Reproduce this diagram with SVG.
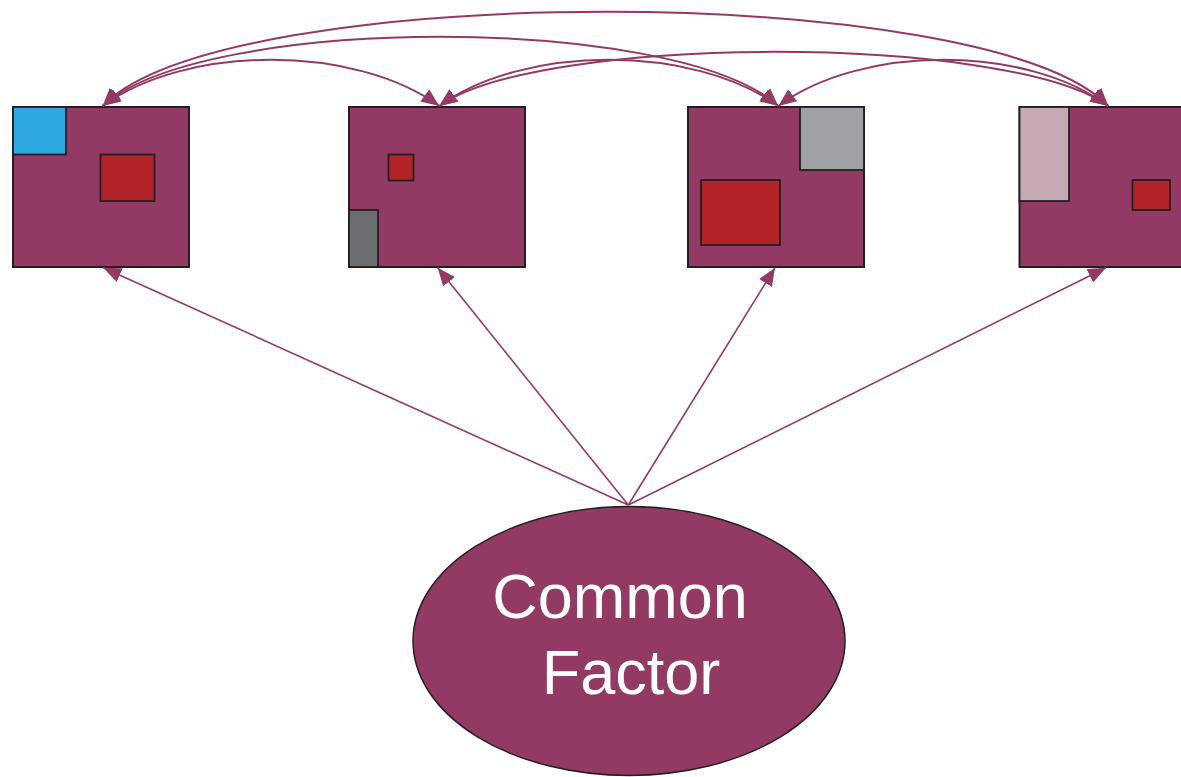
<svg xmlns="http://www.w3.org/2000/svg" width="1181" height="777" viewBox="0 0 1181 777">
  <style>
    .frame { fill: #933a64; stroke: #231f20; stroke-width: 2; }
    .inset { stroke: #231f20; stroke-width: 1.8; }
    .red { fill: #b42327; }
    .blue { fill: #2ea8df; }
    .dgray { fill: #6d6e71; }
    .lgray { fill: #a0a1a4; }
    .pink { fill: #c5a9b4; }
    .arc { fill: none; stroke: #933a64; stroke-width: 2; marker-start: url(#ah); marker-end: url(#ah); }
    .load { fill: none; stroke: #933a64; stroke-width: 1.6; marker-end: url(#ah); }
    .factor { fill: #933a64; stroke: #231f20; stroke-width: 1.5; }
    .label { font-family: "Liberation Sans", Arial, sans-serif; font-size: 63px; fill: #ffffff; text-anchor: middle; }
  </style>
  <defs>
    <marker id="ah" viewBox="0 0 18 15" refX="18" refY="7.5" markerWidth="18" markerHeight="15" markerUnits="userSpaceOnUse" orient="auto-start-reverse">
      <path d="M0,0 L18,7.5 L0,15 z" fill="#933a64"/>
    </marker>
  </defs>

  <!-- indicator 1 -->
  <g id="indicator1">
    <rect class="frame" x="13" y="107" width="176" height="160"/>
    <rect class="inset blue" x="13" y="107" width="53" height="47.5"/>
    <rect class="inset red" x="100.5" y="154.5" width="54" height="46.5"/>
  </g>

  <!-- indicator 2 -->
  <g id="indicator2">
    <rect class="frame" x="349" y="107" width="176" height="160"/>
    <rect class="inset red" x="388.5" y="154.5" width="25" height="26"/>
    <rect class="inset dgray" x="349" y="210" width="29" height="57"/>
  </g>

  <!-- indicator 3 -->
  <g id="indicator3">
    <rect class="frame" x="688" y="107" width="176" height="160"/>
    <rect class="inset lgray" x="800" y="107" width="64" height="63"/>
    <rect class="inset red" x="701" y="180" width="79" height="65"/>
  </g>

  <!-- indicator 4 (runs past the right edge) -->
  <g id="indicator4">
    <rect class="frame" x="1019.5" y="107" width="176" height="160"/>
    <rect class="inset pink" x="1019.5" y="107" width="49.5" height="94"/>
    <rect class="inset red" x="1132.5" y="180" width="37.5" height="30"/>
  </g>

  <!-- common factor -->
  <g id="common-factor">
    <ellipse class="factor" cx="629" cy="641" rx="216" ry="134.5"/>
    <text class="label" x="620" y="618">Common</text>
    <text class="label" x="631" y="694">Factor</text>
  </g>

  <!-- connectors: pairwise correlations on top, loadings from the factor below -->
  <g id="connectors">
    <path class="arc" d="M102.7,106 C186.9,44.4 355,44.4 439.3,106"/>
    <path class="arc" d="M102.7,106 C204,13.8 677,13.8 778.3,106"/>
    <path class="arc" d="M102.7,106 C223.4,-19.6 987.6,-19.6 1108.3,106"/>
    <path class="arc" d="M439.3,106 C524,44.4 693.5,44.4 778.3,106"/>
    <path class="arc" d="M439.3,106 C539.6,33.8 1008,33.8 1108.3,106"/>
    <path class="arc" d="M778.3,106 C860.8,44.4 1025.8,44.4 1108.3,106"/>

    <line class="load" x1="628.3" y1="505" x2="103.3" y2="267.7"/>
    <line class="load" x1="628.3" y1="505" x2="437.7" y2="267.7"/>
    <line class="load" x1="628.3" y1="505" x2="775" y2="267.7"/>
    <line class="load" x1="628.3" y1="505" x2="1106" y2="267.7"/>
  </g>
</svg>
